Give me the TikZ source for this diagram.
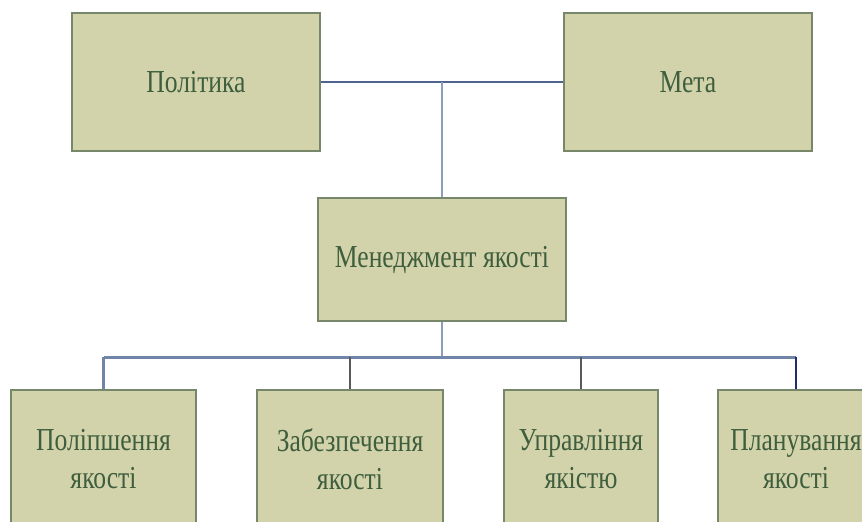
\documentclass[tikz,border=0pt]{standalone}
\usepackage{fontspec}
\newfontfamily\boxfont[FakeStretch=0.8]{Liberation Serif}
\definecolor{boxfill}{HTML}{D3D3AB}
\definecolor{boxdraw}{HTML}{76876A}
\definecolor{boxtext}{HTML}{3E5E3E}
\definecolor{linkdark}{HTML}{4E6390}
\definecolor{linklight}{HTML}{8F9DBD}
\definecolor{linkbus}{HTML}{7085A8}
\definecolor{linkgray}{HTML}{5A5A5A}
\definecolor{linknavy}{HTML}{1C2F6B}
\tikzset{
  qbox/.style={draw=boxdraw, fill=boxfill, line width=2.5pt, text=boxtext,
    font=\boxfont\fontsize{32}{38}\selectfont, align=center, inner sep=0pt,
    minimum height=138pt},
  link/.style={line width=2.5pt}
}
\begin{document}
\begin{tikzpicture}[x=1pt,y=-1pt]
\useasboundingbox (0,0) rectangle (862,522);
\clip (0,0) rectangle (862,522);
\node[qbox, minimum width=248pt] (pol) at (196,82) {Політика};
\node[qbox, minimum width=248pt] (meta) at (688,82) {Мета};
\node[qbox, minimum width=248pt, minimum height=123pt] (men) at (442,259.5) {Менеджмент якості};
\node[qbox, minimum width=185pt] (b1) at (103.5,459) {Поліпшення\\якості};
\node[qbox, minimum width=186pt] (b2) at (350,459) {Забезпечення\\якості};
\node[qbox, minimum width=154pt] (b3) at (581,459) {Управління\\якістю};
\node[qbox, minimum width=156pt] (b4) at (796,459) {Планування\\якості};
\coordinate (j1) at (442,82);
\coordinate (j2) at (442,357);
\draw[link, draw=linkdark] (pol.east) -- (meta.west);
\draw[link, draw=linklight] (j1) -- (men.north);
\draw[link, draw=linklight] (men.south) -- (j2);
\draw[link, draw=linkbus, line width=3pt] (b1.north |- j2) -- (b4.north |- j2);
\draw[link, draw=linkbus] (b1.north |- j2) -- (b1.north);
\draw[link, draw=linkgray] (b2.north |- j2) -- (b2.north);
\draw[link, draw=linkgray] (b3.north |- j2) -- (b3.north);
\draw[link, draw=linknavy] (b4.north |- j2) -- (b4.north);
\end{tikzpicture}
\end{document}
